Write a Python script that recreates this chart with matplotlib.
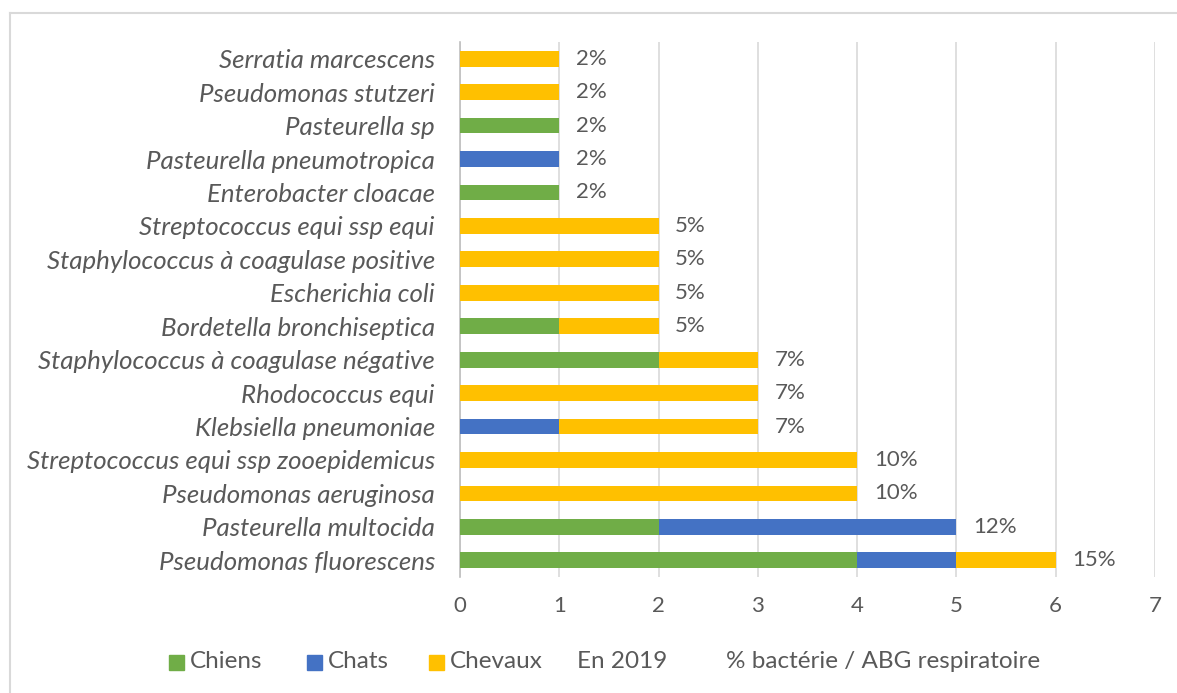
import matplotlib
matplotlib.use("Agg")
import matplotlib.pyplot as plt
from matplotlib.patches import Rectangle
from matplotlib.lines import Line2D
import numpy as np

# bacteria, bottom to top
bacteries = ["Pseudomonas fluorescens", "Pasteurella multocida", "Pseudomonas aeruginosa",
             "Streptococcus equi ssp zooepidemicus", "Klebsiella pneumoniae", "Rhodococcus equi",
             "Staphylococcus à coagulase négative", "Bordetella bronchiseptica", "Escherichia coli",
             "Staphylococcus à coagulase positive", "Streptococcus equi ssp equi",
             "Enterobacter cloacae", "Pasteurella pneumotropica", "Pasteurella sp",
             "Pseudomonas stutzeri", "Serratia marcescens"]
chiens  = [4, 2, 0, 0, 0, 0, 2, 1, 0, 0, 0, 1, 0, 1, 0, 0]
chats   = [1, 3, 0, 0, 1, 0, 0, 0, 0, 0, 0, 0, 1, 0, 0, 0]
chevaux = [1, 0, 4, 4, 2, 3, 1, 1, 2, 2, 2, 0, 0, 0, 1, 1]
pourcent = ["15%", "12%", "10%", "10%", "7%", "7%", "7%", "5%", "5%", "5%", "5%",
            "2%", "2%", "2%", "2%", "2%"]

c_chiens = "#70AD47"
c_chats = "#4472C4"
c_chevaux = "#FFC000"
gris = "#595959"

plt.rcParams['font.family'] = ['Lato', 'DejaVu Sans']

W, H = 1177, 693
fig = plt.figure(figsize=(W / 100, H / 100), dpi=100)
ax = fig.add_axes([0.3908, 0.1674, 0.5905, 0.772])

y = np.arange(len(bacteries))
h = 0.47
ch = np.array(chiens)
ca = np.array(chats)
cv = np.array(chevaux)
ax.barh(y, ch, height=h, color=c_chiens, zorder=3)
ax.barh(y, ca, height=h, left=ch, color=c_chats, zorder=3)
ax.barh(y, cv, height=h, left=ch + ca, color=c_chevaux, zorder=3)

tot = ch + ca + cv
for yi, t, lab in zip(y, tot, pourcent):
    ax.annotate(lab, (t, yi), xytext=(12, 0), textcoords="offset points",
                va="center", ha="left", fontsize=16, color=gris)

ax.set_xlim(0, 7)
ax.set_ylim(-0.5, len(bacteries) - 0.5)
ax.set_xticks(range(8))
ax.set_yticks(y)
ax.set_yticklabels(bacteries, fontsize=18.6, style="italic", color=gris)
ax.tick_params(axis="x", labelsize=16, labelcolor=gris, length=0, pad=14)
ax.tick_params(axis="y", length=0, pad=18)
ax.grid(axis="x", color="#D9D9D9", linewidth=1.2, zorder=0)
for s in ["top", "right", "bottom"]:
    ax.spines[s].set_visible(False)
ax.spines["left"].set_color("#BFBFBF")
ax.spines["left"].set_linewidth(1.2)

# legend, placed like the original (pixel positions of each entry)
leg_y = 662
leg_items = [("Chiens", c_chiens, 169), ("Chats", c_chats, 307), ("Chevaux", c_chevaux, 429),
             ("En 2019", None, 577), ("% bactérie / ABG respiratoire", None, 726)]
for lab, col, x0 in leg_items:
    if col is not None:
        fig.add_artist(Rectangle((x0 / W, (H - leg_y - 7.5) / H), 15 / W, 15 / H,
                                 color=col, transform=fig.transFigure))
        xt = x0 + 21
    else:
        xt = x0
    fig.text(xt / W, (H - leg_y) / H, lab, fontsize=17.5, color=gris,
             va="center", ha="left")

# chart frame (top and left edges)
fig.add_artist(Line2D([0.0085, 0.0085], [0.0, 0.981], color="#D9D9D9", linewidth=1.5,
                      transform=fig.transFigure))
fig.add_artist(Line2D([0.0085, 1.0], [0.981, 0.981], color="#D9D9D9", linewidth=1.5,
                      transform=fig.transFigure))

fig.savefig("out.png", dpi=100)
